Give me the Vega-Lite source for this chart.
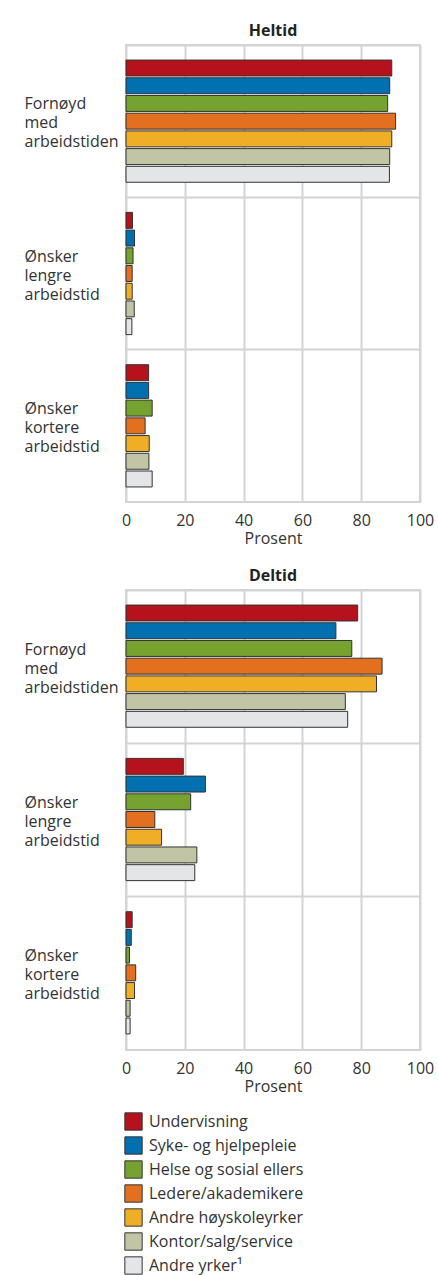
{
  "$schema": "https://vega.github.io/schema/vega-lite/v6.json",
  "padding": {"left": 23, "top": 22, "right": 5, "bottom": 5},
  "background": "white",
  "config": {
    "font": "Open Sans",
    "view": {"stroke": "#d4d4d4", "strokeWidth": 2},
    "axis": {"labelFont": "Open Sans", "titleFont": "Open Sans", "labelColor": "#333333", "titleColor": "#333333"},
    "title": {"font": "Open Sans", "fontSize": 16, "fontWeight": "bold", "color": "#222222", "anchor": "middle", "frame": "group", "offset": 6},
    "legend": {"labelFont": "Open Sans"}
  },
  "data": {"values": [
    {"tid": "Heltid", "kategori": "Fornøyd med arbeidstiden", "yrke": "Undervisning", "prosent": 90.4},
    {"tid": "Heltid", "kategori": "Fornøyd med arbeidstiden", "yrke": "Syke- og hjelpepleie", "prosent": 89.7},
    {"tid": "Heltid", "kategori": "Fornøyd med arbeidstiden", "yrke": "Helse og sosial ellers", "prosent": 89.0},
    {"tid": "Heltid", "kategori": "Fornøyd med arbeidstiden", "yrke": "Ledere/akademikere", "prosent": 91.7},
    {"tid": "Heltid", "kategori": "Fornøyd med arbeidstiden", "yrke": "Andre høyskoleyrker", "prosent": 90.4},
    {"tid": "Heltid", "kategori": "Fornøyd med arbeidstiden", "yrke": "Kontor/salg/service", "prosent": 89.7},
    {"tid": "Heltid", "kategori": "Fornøyd med arbeidstiden", "yrke": "Andre yrker¹", "prosent": 89.6},
    {"tid": "Heltid", "kategori": "Ønsker lengre arbeidstid", "yrke": "Undervisning", "prosent": 2.2},
    {"tid": "Heltid", "kategori": "Ønsker lengre arbeidstid", "yrke": "Syke- og hjelpepleie", "prosent": 2.9},
    {"tid": "Heltid", "kategori": "Ønsker lengre arbeidstid", "yrke": "Helse og sosial ellers", "prosent": 2.4},
    {"tid": "Heltid", "kategori": "Ønsker lengre arbeidstid", "yrke": "Ledere/akademikere", "prosent": 2.1},
    {"tid": "Heltid", "kategori": "Ønsker lengre arbeidstid", "yrke": "Andre høyskoleyrker", "prosent": 2.1},
    {"tid": "Heltid", "kategori": "Ønsker lengre arbeidstid", "yrke": "Kontor/salg/service", "prosent": 2.8},
    {"tid": "Heltid", "kategori": "Ønsker lengre arbeidstid", "yrke": "Andre yrker¹", "prosent": 2.0},
    {"tid": "Heltid", "kategori": "Ønsker kortere arbeidstid", "yrke": "Undervisning", "prosent": 7.7},
    {"tid": "Heltid", "kategori": "Ønsker kortere arbeidstid", "yrke": "Syke- og hjelpepleie", "prosent": 7.7},
    {"tid": "Heltid", "kategori": "Ønsker kortere arbeidstid", "yrke": "Helse og sosial ellers", "prosent": 8.9},
    {"tid": "Heltid", "kategori": "Ønsker kortere arbeidstid", "yrke": "Ledere/akademikere", "prosent": 6.5},
    {"tid": "Heltid", "kategori": "Ønsker kortere arbeidstid", "yrke": "Andre høyskoleyrker", "prosent": 7.9},
    {"tid": "Heltid", "kategori": "Ønsker kortere arbeidstid", "yrke": "Kontor/salg/service", "prosent": 7.8},
    {"tid": "Heltid", "kategori": "Ønsker kortere arbeidstid", "yrke": "Andre yrker¹", "prosent": 8.9},
    {"tid": "Deltid", "kategori": "Fornøyd med arbeidstiden", "yrke": "Undervisning", "prosent": 78.8},
    {"tid": "Deltid", "kategori": "Fornøyd med arbeidstiden", "yrke": "Syke- og hjelpepleie", "prosent": 71.4},
    {"tid": "Deltid", "kategori": "Fornøyd med arbeidstiden", "yrke": "Helse og sosial ellers", "prosent": 76.8},
    {"tid": "Deltid", "kategori": "Fornøyd med arbeidstiden", "yrke": "Ledere/akademikere", "prosent": 87.1},
    {"tid": "Deltid", "kategori": "Fornøyd med arbeidstiden", "yrke": "Andre høyskoleyrker", "prosent": 85.2},
    {"tid": "Deltid", "kategori": "Fornøyd med arbeidstiden", "yrke": "Kontor/salg/service", "prosent": 74.6},
    {"tid": "Deltid", "kategori": "Fornøyd med arbeidstiden", "yrke": "Andre yrker¹", "prosent": 75.4},
    {"tid": "Deltid", "kategori": "Ønsker lengre arbeidstid", "yrke": "Undervisning", "prosent": 19.5},
    {"tid": "Deltid", "kategori": "Ønsker lengre arbeidstid", "yrke": "Syke- og hjelpepleie", "prosent": 27.0},
    {"tid": "Deltid", "kategori": "Ønsker lengre arbeidstid", "yrke": "Helse og sosial ellers", "prosent": 22.0},
    {"tid": "Deltid", "kategori": "Ønsker lengre arbeidstid", "yrke": "Ledere/akademikere", "prosent": 9.8},
    {"tid": "Deltid", "kategori": "Ønsker lengre arbeidstid", "yrke": "Andre høyskoleyrker", "prosent": 12.1},
    {"tid": "Deltid", "kategori": "Ønsker lengre arbeidstid", "yrke": "Kontor/salg/service", "prosent": 24.1},
    {"tid": "Deltid", "kategori": "Ønsker lengre arbeidstid", "yrke": "Andre yrker¹", "prosent": 23.4},
    {"tid": "Deltid", "kategori": "Ønsker kortere arbeidstid", "yrke": "Undervisning", "prosent": 2.1},
    {"tid": "Deltid", "kategori": "Ønsker kortere arbeidstid", "yrke": "Syke- og hjelpepleie", "prosent": 1.8},
    {"tid": "Deltid", "kategori": "Ønsker kortere arbeidstid", "yrke": "Helse og sosial ellers", "prosent": 1.2},
    {"tid": "Deltid", "kategori": "Ønsker kortere arbeidstid", "yrke": "Ledere/akademikere", "prosent": 3.3},
    {"tid": "Deltid", "kategori": "Ønsker kortere arbeidstid", "yrke": "Andre høyskoleyrker", "prosent": 2.9},
    {"tid": "Deltid", "kategori": "Ønsker kortere arbeidstid", "yrke": "Kontor/salg/service", "prosent": 1.4},
    {"tid": "Deltid", "kategori": "Ønsker kortere arbeidstid", "yrke": "Andre yrker¹", "prosent": 1.4}
  ]},
  "spacing": 20,
  "vconcat": [
    {
      "title": "Heltid",
      "width": 294,
      "height": 457,
      "transform": [{"filter": "datum.tid === 'Heltid'"}],
      "mark": {"type": "bar", "stroke": "#333333", "strokeWidth": 1},
      "encoding": {
        "y": {"field": "kategori", "type": "nominal", "sort": ["Fornøyd med arbeidstiden", "Ønsker lengre arbeidstid", "Ønsker kortere arbeidstid"],
          "scale": {"paddingInner": 0, "paddingOuter": 0},
          "axis": {"title": null, "ticks": false, "domain": false, "labelAlign": "left", "labelPadding": 102, "labelOffset": -17, "labelFontSize": 16, "labelLineHeight": 19, "labelExpr": "split(datum.label, ' ')", "grid": true, "bandPosition": 0, "gridColor": "#d4d4d4", "gridWidth": 2, "labelColor": "#333333"}},
        "yOffset": {"field": "yrke", "type": "nominal", "sort": ["Undervisning", "Syke- og hjelpepleie", "Helse og sosial ellers", "Ledere/akademikere", "Andre høyskoleyrker", "Kontor/salg/service", "Andre yrker¹"],
          "scale": {"paddingInner": 0.1, "paddingOuter": 0.85}},
        "x": {"field": "prosent", "type": "quantitative", "scale": {"domain": [0, 100], "nice": false},
          "axis": {"title": "Prosent", "values": [0, 20, 40, 60, 80, 100], "ticks": false, "domain": false, "labelFontSize": 16, "titleFontSize": 16, "titleFontWeight": "normal", "labelPadding": 10, "titlePadding": 2, "gridColor": "#d4d4d4", "gridWidth": 2, "labelFlush": false}},
        "color": {"field": "yrke", "type": "nominal", "sort": ["Undervisning", "Syke- og hjelpepleie", "Helse og sosial ellers", "Ledere/akademikere", "Andre høyskoleyrker", "Kontor/salg/service", "Andre yrker¹"],
          "scale": {"domain": ["Undervisning", "Syke- og hjelpepleie", "Helse og sosial ellers", "Ledere/akademikere", "Andre høyskoleyrker", "Kontor/salg/service", "Andre yrker¹"], "range": ["#b5121b", "#0070b0", "#76a22f", "#e2701f", "#f0ae27", "#c2c5a5", "#e4e5e6"]},
          "legend": {"title": null, "orient": "none", "legendX": -2, "legendY": 1067, "direction": "vertical", "symbolType": "square", "symbolSize": 300, "symbolStrokeColor": "#333333", "symbolStrokeWidth": 1, "symbolOpacity": 1, "labelFontSize": 16, "labelColor": "#333333", "rowPadding": 1, "labelOffset": 6}}
      }
    },
    {
      "title": "Deltid",
      "width": 294,
      "height": 460,
      "transform": [{"filter": "datum.tid === 'Deltid'"}],
      "mark": {"type": "bar", "stroke": "#333333", "strokeWidth": 1},
      "encoding": {
        "y": {"field": "kategori", "type": "nominal", "sort": ["Fornøyd med arbeidstiden", "Ønsker lengre arbeidstid", "Ønsker kortere arbeidstid"],
          "scale": {"paddingInner": 0, "paddingOuter": 0},
          "axis": {"title": null, "ticks": false, "domain": false, "labelAlign": "left", "labelPadding": 102, "labelOffset": -17, "labelFontSize": 16, "labelLineHeight": 19, "labelExpr": "split(datum.label, ' ')", "grid": true, "bandPosition": 0, "gridColor": "#d4d4d4", "gridWidth": 2, "labelColor": "#333333"}},
        "yOffset": {"field": "yrke", "type": "nominal", "sort": ["Undervisning", "Syke- og hjelpepleie", "Helse og sosial ellers", "Ledere/akademikere", "Andre høyskoleyrker", "Kontor/salg/service", "Andre yrker¹"],
          "scale": {"paddingInner": 0.1, "paddingOuter": 0.85}},
        "x": {"field": "prosent", "type": "quantitative", "scale": {"domain": [0, 100], "nice": false},
          "axis": {"title": "Prosent", "values": [0, 20, 40, 60, 80, 100], "ticks": false, "domain": false, "labelFontSize": 16, "titleFontSize": 16, "titleFontWeight": "normal", "labelPadding": 10, "titlePadding": 2, "gridColor": "#d4d4d4", "gridWidth": 2, "labelFlush": false}},
        "color": {"field": "yrke", "type": "nominal", "sort": ["Undervisning", "Syke- og hjelpepleie", "Helse og sosial ellers", "Ledere/akademikere", "Andre høyskoleyrker", "Kontor/salg/service", "Andre yrker¹"],
          "scale": {"domain": ["Undervisning", "Syke- og hjelpepleie", "Helse og sosial ellers", "Ledere/akademikere", "Andre høyskoleyrker", "Kontor/salg/service", "Andre yrker¹"], "range": ["#b5121b", "#0070b0", "#76a22f", "#e2701f", "#f0ae27", "#c2c5a5", "#e4e5e6"]}}
      }
    }
  ]
}
